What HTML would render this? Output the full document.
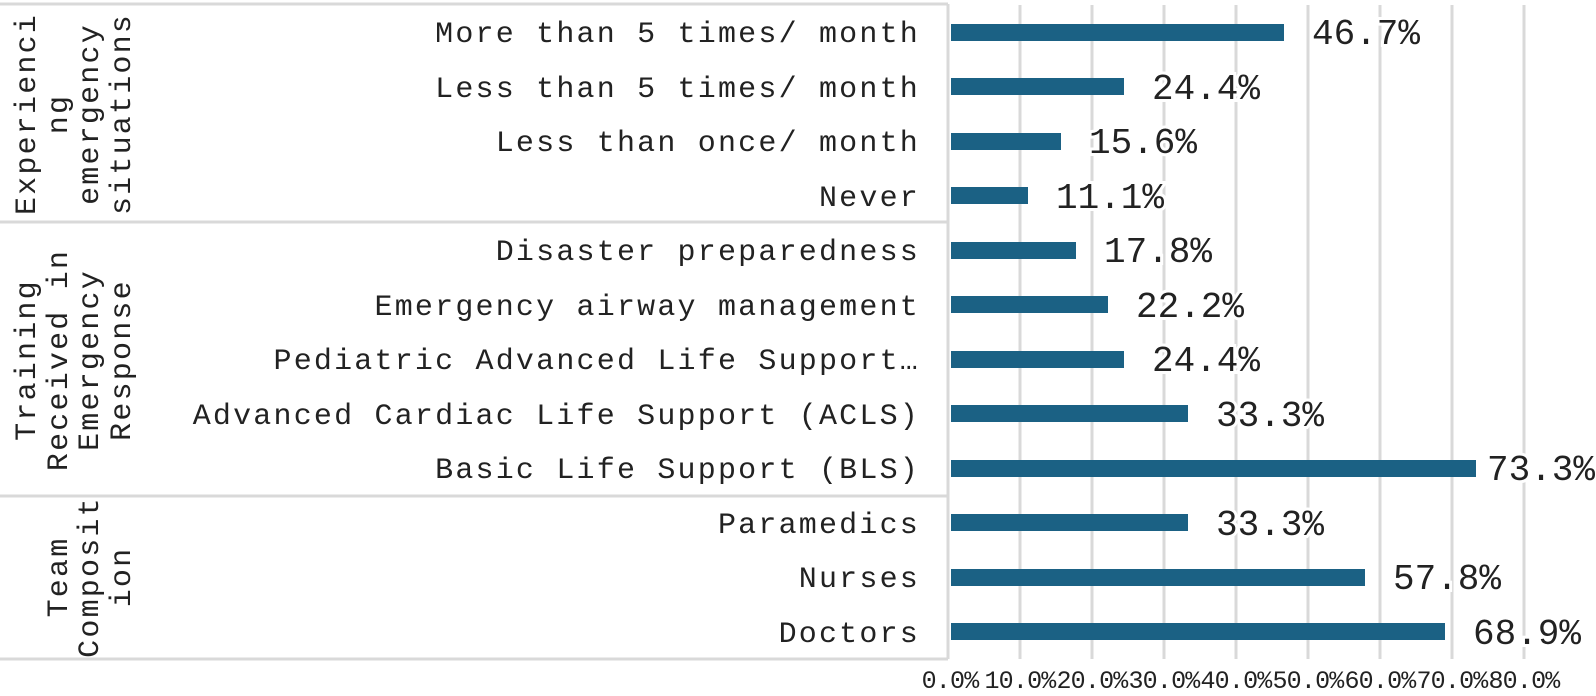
<!DOCTYPE html>
<html><head><meta charset="utf-8"><style>
html,body{margin:0;padding:0;background:#fff;}
svg{display:block;}
text{font-family:"Liberation Mono","Courier New",monospace;fill:#222;}
.cat{font-size:30px;letter-spacing:2.2px;text-anchor:end;}
.val{font-size:36px;paint-order:stroke;stroke:#fff;stroke-width:6px;}
.grp{font-size:30px;letter-spacing:2.2px;text-anchor:middle;}
.tick{font-size:25px;letter-spacing:-0.8px;text-anchor:middle;}
</style></head><body>
<svg width="1596" height="696" viewBox="0 0 1596 696" xmlns="http://www.w3.org/2000/svg">
<g stroke="#d9d9d9" stroke-width="3">
<line x1="1020" y1="5" x2="1020" y2="659"/>
<line x1="1092" y1="5" x2="1092" y2="659"/>
<line x1="1164" y1="5" x2="1164" y2="659"/>
<line x1="1236" y1="5" x2="1236" y2="659"/>
<line x1="1308" y1="5" x2="1308" y2="659"/>
<line x1="1380" y1="5" x2="1380" y2="659"/>
<line x1="1452" y1="5" x2="1452" y2="659"/>
<line x1="1524" y1="5" x2="1524" y2="659"/>
<line x1="948" y1="4" x2="948" y2="659"/>
<line x1="0" y1="4" x2="948" y2="4"/>
<line x1="0" y1="222" x2="948" y2="222"/>
<line x1="0" y1="496" x2="948" y2="496"/>
<line x1="0" y1="659" x2="948" y2="659"/>
</g>
<g fill="#1b6184">
<rect x="951" y="24" width="333" height="17"/>
<rect x="951" y="78" width="173" height="17"/>
<rect x="951" y="133" width="110" height="17"/>
<rect x="951" y="187" width="77" height="17"/>
<rect x="951" y="242" width="125" height="17"/>
<rect x="951" y="296" width="157" height="17"/>
<rect x="951" y="351" width="173" height="17"/>
<rect x="951" y="405" width="237" height="17"/>
<rect x="951" y="460" width="525" height="17"/>
<rect x="951" y="514" width="237" height="17"/>
<rect x="951" y="569" width="414" height="17"/>
<rect x="951" y="623" width="494" height="17"/>
</g>
<g class="cat">
<text x="920" y="42">More than 5 times/ month</text>
<text x="920" y="97">Less than 5 times/ month</text>
<text x="920" y="151">Less than once/ month</text>
<text x="920" y="206">Never</text>
<text x="920" y="260">Disaster preparedness</text>
<text x="920" y="315">Emergency airway management</text>
<text x="920" y="369">Pediatric Advanced Life Support…</text>
<text x="920" y="424">Advanced Cardiac Life Support (ACLS)</text>
<text x="920" y="478">Basic Life Support (BLS)</text>
<text x="920" y="533">Paramedics</text>
<text x="920" y="587">Nurses</text>
<text x="920" y="642">Doctors</text>
</g>
<g class="val">
<text x="1312" y="44">46.7%</text>
<text x="1152" y="99">24.4%</text>
<text x="1089" y="153">15.6%</text>
<text x="1056" y="208">11.1%</text>
<text x="1104" y="262">17.8%</text>
<text x="1136" y="317">22.2%</text>
<text x="1152" y="371">24.4%</text>
<text x="1216" y="426">33.3%</text>
<text x="1487" y="480">73.3%</text>
<text x="1216" y="535">33.3%</text>
<text x="1393" y="589">57.8%</text>
<text x="1473" y="644">68.9%</text>
</g>
<g class="grp">
<text transform="translate(35,114) rotate(-90)">Experienci</text>
<text transform="translate(67,114) rotate(-90)">ng</text>
<text transform="translate(98,114) rotate(-90)">emergency</text>
<text transform="translate(130,114) rotate(-90)">situations</text>
<text transform="translate(35,360) rotate(-90)">Training</text>
<text transform="translate(67,360) rotate(-90)">Received in</text>
<text transform="translate(98,360) rotate(-90)">Emergency</text>
<text transform="translate(130,360) rotate(-90)">Response</text>
<text transform="translate(67,577) rotate(-90)">Team</text>
<text transform="translate(98,577) rotate(-90)">Composit</text>
<text transform="translate(130,577) rotate(-90)">ion</text>
</g>
<g class="tick">
<text x="950" y="688">0.0%</text>
<text x="1020" y="688">10.0%</text>
<text x="1092" y="688">20.0%</text>
<text x="1164" y="688">30.0%</text>
<text x="1236" y="688">40.0%</text>
<text x="1308" y="688">50.0%</text>
<text x="1380" y="688">60.0%</text>
<text x="1452" y="688">70.0%</text>
<text x="1524" y="688">80.0%</text>
</g>
</svg>
</body></html>
